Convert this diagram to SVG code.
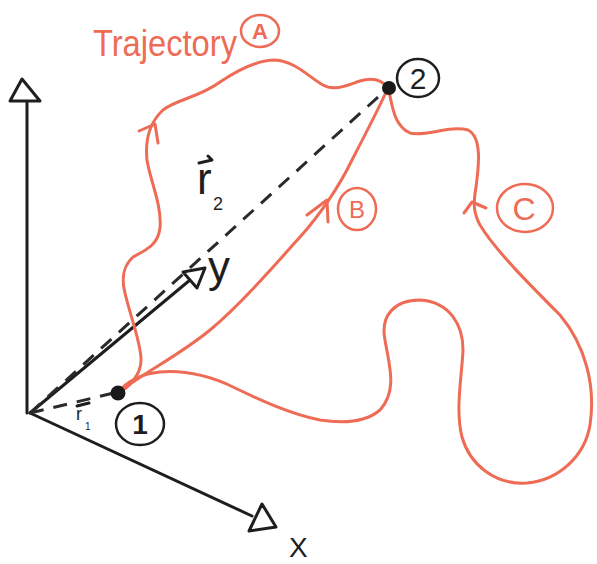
<svg xmlns="http://www.w3.org/2000/svg" width="597" height="564" viewBox="0 0 597 564">
<style>
.ax{fill:none;stroke:#1e1e1e;stroke-width:3;stroke-linecap:round;stroke-linejoin:round}
.head{fill:#fff;stroke:#1e1e1e;stroke-width:3;stroke-linejoin:round}
.dash{fill:none;stroke:#2a2a2a;stroke-width:3;stroke-dasharray:14 10}
.tr{fill:none;stroke:#EE6B55;stroke-width:3;stroke-linecap:round;stroke-linejoin:round}
.ring{fill:none;stroke:#1e1e1e;stroke-width:2.5}
.oring{fill:none;stroke:#EE6B55;stroke-width:2.5}
.bt{font-family:"Liberation Sans","DejaVu Sans",sans-serif;fill:#1e1e1e}
.ot{font-family:"Liberation Sans","DejaVu Sans",sans-serif;fill:#EE6B55}
</style>
<rect width="597" height="564" fill="#fff"/>
<g id="axes">
  <path class="ax" d="M27,413 L27,102"/>
  <polygon class="head" points="22,79 10,101 40,101"/>
  <path class="ax" d="M30,413 L252,516"/>
  <polygon class="head" points="262,504 276,527 249,531"/>
  <path class="ax" d="M30,413 L190,280"/>
  <polygon class="head" points="205,268 183,272 197,288"/>
  <text class="bt" x="208" y="282" font-size="44">y</text>
  <text class="bt" x="289" y="557" font-size="28">X</text>
</g>
<g id="vectors">
  <path class="dash" d="M30,413 L388,88"/>
  <path class="dash" d="M30,413 L114,393"/>
  <g id="r2-label">
    <path class="ax" stroke-width="2.5" d="M199,163 L212,160 M208,156 L212,160"/>
    <text class="bt" x="197" y="194" font-size="44">r</text>
    <text class="bt" x="213" y="210" font-size="18">2</text>
  </g>
  <g id="r1-label">
    <path class="ax" stroke-width="2" d="M77,406 L89,403"/>
    <text class="bt" x="76" y="420" font-size="18">r</text>
    <text class="bt" x="85" y="430" font-size="10">1</text>
  </g>
</g>
<g id="connectors">
  <path id="traj-A" class="tr" d="M118,393 C128,388 142,375 141,358 C140,340 130,315 125,293 C121,278 124,265 133,257 C146,250 158,245 160,228 C162,205 150,180 147,160 C145,140 150,122 163,110 C175,100 200,97 220,82 C235,72 255,60 275,60 C295,61 310,78 323,85 C335,92 350,84 360,81 C373,77 382,80 388,88"/>
  <path class="tr" d="M139,131 L155,124 L158,143"/>
  <path id="traj-B" class="tr" d="M118,393 C140,375 180,355 210,330 C240,305 275,265 300,237 C320,215 340,185 352,160 C365,135 378,110 388,88"/>
  <path class="tr" d="M307,215 L327,200 L328,222"/>
  <path id="traj-C" class="tr" d="M388,88 C392,100 392,125 410,133 C425,137 450,125 468,130 C482,137 479,165 476,187 C474,200 472,210 480,225 C495,250 530,285 560,315 C585,345 596,385 590,425 C585,455 560,480 527,483 C495,485 470,465 462,437 C455,410 462,375 463,350 C463,325 450,302 420,300 C395,300 380,315 385,340 C389,365 398,390 380,410 C365,423 340,423 320,420 C290,414 260,400 233,387 C210,376 185,370 160,372 C140,374 126,382 118,393"/>
  <path class="tr" d="M464,213 L472,202 L486,208"/>
</g>
<g id="point-1">
  <circle cx="118" cy="393" r="7.5" fill="#1a1a1a"/>
  <ellipse class="ring" cx="140" cy="424" rx="24" ry="21"/>
  <text class="bt" x="140" y="434" font-size="28" font-weight="bold" text-anchor="middle">1</text>
</g>
<g id="point-2">
  <circle cx="389" cy="88" r="7" fill="#1a1a1a"/>
  <ellipse class="ring" cx="418" cy="78" rx="21" ry="19"/>
  <text class="bt" x="418" y="89" font-size="30" text-anchor="middle">2</text>
</g>
<g id="label-A">
  <text class="ot" x="93" y="56" font-size="36" textLength="144" lengthAdjust="spacingAndGlyphs">Trajectory</text>
  <ellipse class="oring" cx="260" cy="31" rx="19" ry="16"/>
  <text class="ot" x="260" y="39" font-size="22" font-weight="bold" text-anchor="middle">A</text>
</g>
<g id="label-B">
  <ellipse class="oring" cx="357" cy="209" rx="19" ry="21"/>
  <text class="ot" x="357" y="218" font-size="24" text-anchor="middle">B</text>
</g>
<g id="label-C">
  <ellipse class="oring" cx="525" cy="208" rx="28" ry="24"/>
  <text class="ot" x="524" y="220" font-size="32" text-anchor="middle">C</text>
</g>
</svg>
